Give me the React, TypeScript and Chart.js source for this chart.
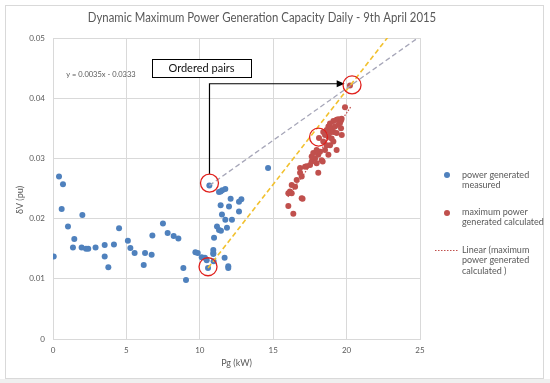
import React, { useEffect, useRef } from "react";
import { Chart, registerables } from "chart.js";

Chart.register(...registerables);

const titleText = "Dynamic Maximum Power Generation Capacity Daily - 9th April 2015";
const xTitle = "Pg (kW)";
const yTitle = "δV (pu)";
const xTickValues = [0, 5, 10, 15, 20, 25];
const yTickLabels = ["0", "0.01", "0.02", "0.03", "0.04", "0.05"];

const measuredX = [0.05,0.41,0.68,0.59,1.02,1.45,1.36,2.0,1.95,2.25,2.4,2.9,3.52,3.52,3.77,4.15,4.5,5.1,5.27,5.56,6.18,6.27,6.72,6.77,7.49,7.81,8.22,8.54,8.88,9.06,9.7,9.86,10.13,10.35,10.47,10.56,10.65,10.92,10.92,10.92,10.94,10.97,11.17,11.31,11.44,11.85,11.74,12.19,11.51,11.42,11.99,12.67,12.1,12.67,12.83,11.31,11.42,11.53,11.74,11.69,11.94,11.94,14.65];
const measuredY = [0.0137,0.0270,0.0257,0.0216,0.0187,0.0166,0.0152,0.0206,0.0152,0.0150,0.0150,0.0152,0.0156,0.0137,0.0119,0.0157,0.0184,0.0163,0.0151,0.0143,0.0123,0.0143,0.0140,0.0172,0.0192,0.0176,0.0171,0.0167,0.0118,0.0098,0.0144,0.0143,0.0136,0.0135,0.0131,0.0118,0.0255,0.0148,0.0143,0.0141,0.0129,0.0168,0.0187,0.0181,0.0180,0.0185,0.0198,0.0198,0.0207,0.0222,0.0220,0.0212,0.0233,0.0228,0.0232,0.0244,0.0245,0.0247,0.0249,0.0135,0.0121,0.0118,0.0284];

const calcX = [16.03,16.37,16.03,16.14,16.26,16.26,16.49,16.6,16.83,16.94,16.94,17.0,16.83,17.17,17.28,17.51,17.62,17.62,17.73,17.85,17.96,17.96,18.07,18.07,18.19,18.3,18.37,18.12,18.41,18.41,18.53,18.53,18.64,18.64,18.76,18.76,18.76,18.87,18.87,18.87,18.98,18.98,19.1,19.1,19.1,19.21,19.32,19.32,19.32,19.44,19.44,19.55,19.62,19.62,19.67,19.66,19.89,20.23];
const calcY = [0.0221,0.0208,0.0242,0.0245,0.0242,0.0256,0.0253,0.0264,0.0276,0.0270,0.0234,0.0233,0.0284,0.0286,0.0287,0.0289,0.0295,0.0303,0.0309,0.0300,0.0292,0.0314,0.0306,0.0276,0.0311,0.0297,0.0295,0.0334,0.0328,0.0344,0.0339,0.0314,0.0322,0.0347,0.0336,0.0306,0.0353,0.0322,0.0344,0.0358,0.0333,0.0350,0.0328,0.0344,0.0362,0.0353,0.0342,0.0364,0.0314,0.0356,0.0365,0.0359,0.0363,0.0350,0.0339,0.0366,0.0385,0.0421];

const trendX = [16.0, 20.3];
const trendY = [0.0236, 0.0386];
const greyLineX = [10.65, 25.2];
const greyLineY = [0.0255, 0.0506];
const yellowLineX = [10.56, 22.8];
const yellowLineY = [0.0118, 0.0501];

const circleX = [10.66, 10.56, 18.09, 20.37];
const circleY = [0.0259, 0.0120, 0.03355, 0.0422];
const arrowX = [10.66, 10.66, 19.8];
const arrowY = [0.0274, 0.0424, 0.0424];
const boxLabel = "Ordered pairs";
const boxX = [6.74, 13.49];
const boxY = [0.04651, 0.04352];
const equationText = "y = 0.0035x - 0.0333";
const equationX = 0.9;
const equationY = 0.0439;

const legendMeasured = ["power generated", "measured"];
const legendCalc = ["maximum power", "generated calculated"];
const legendTrend = ["Linear (maximum", "power generated", "calculated )"];

const FONT = "Lato, 'Open Sans', sans-serif";
const BLUE = "#4f81bd";
const RED = "#c0504d";
const GRID = "#d9d9d9";
const TEXT = "#595959";

const pts = (xs: number[], ys: number[]) => xs.map((x, i) => ({ x, y: ys[i] }));

const overlay = {
  id: "overlay",
  beforeDraw(chart: any) {
    const ctx = chart.ctx;
    ctx.save();
    ctx.fillStyle = "#ffffff";
    ctx.fillRect(0, 0, chart.width, chart.height);
    ctx.fillStyle = "#efefef";
    ctx.fillRect(0, 379, chart.width, chart.height - 379);
    ctx.strokeStyle = GRID;
    ctx.lineWidth = 1;
    ctx.strokeRect(5.5, 5.5, 538, 373);
    ctx.restore();
  },
  afterDraw(chart: any) {
    const ctx = chart.ctx;
    const xs = chart.scales.x;
    const ys = chart.scales.y;
    const area = chart.chartArea;
    ctx.save();
    // title
    ctx.fillStyle = TEXT;
    ctx.font = `12px ${FONT}`;
    ctx.textAlign = "center";
    ctx.textBaseline = "middle";
    ctx.save();
    ctx.translate(262, 18);
    ctx.scale(0.95, 1.08);
    ctx.fillText(titleText, 0, 0);
    ctx.restore();
    // axis titles
    ctx.font = `9px ${FONT}`;
    ctx.fillText(xTitle, (area.left + area.right) / 2, 363);
    ctx.save();
    ctx.translate(20, 200);
    ctx.rotate(-Math.PI / 2);
    ctx.fillText(yTitle, 0, 0);
    ctx.restore();
    // equation
    ctx.font = `7.5px ${FONT}`;
    ctx.textAlign = "left";
    ctx.fillText(equationText, xs.getPixelForValue(equationX), ys.getPixelForValue(equationY));
    // box
    const bx0 = xs.getPixelForValue(boxX[0]);
    const bx1 = xs.getPixelForValue(boxX[1]);
    const by0 = ys.getPixelForValue(boxY[0]);
    const by1 = ys.getPixelForValue(boxY[1]);
    ctx.fillStyle = "#ffffff";
    ctx.fillRect(bx0, by0, bx1 - bx0, by1 - by0);
    ctx.strokeStyle = "#000000";
    ctx.lineWidth = 1;
    ctx.strokeRect(Math.round(bx0) + 0.5, Math.round(by0) + 0.5, Math.round(bx1 - bx0), Math.round(by1 - by0));
    ctx.fillStyle = "#111111";
    ctx.font = `11px ${FONT}`;
    ctx.textAlign = "center";
    ctx.fillText(boxLabel, (bx0 + bx1) / 2, (by0 + by1) / 2 + 0.5);
    // arrow
    ctx.strokeStyle = "#000000";
    ctx.lineWidth = 1.2;
    ctx.beginPath();
    arrowX.forEach((x, i) => {
      const px = xs.getPixelForValue(x);
      const py = ys.getPixelForValue(arrowY[i]);
      if (i === 0) ctx.moveTo(px, py);
      else ctx.lineTo(px, py);
    });
    const tipX = xs.getPixelForValue(arrowX[arrowX.length - 1]);
    const tipY = ys.getPixelForValue(arrowY[arrowY.length - 1]);
    ctx.lineTo(tipX - 5, tipY);
    ctx.stroke();
    ctx.fillStyle = "#000000";
    ctx.beginPath();
    ctx.moveTo(tipX + 1, tipY);
    ctx.lineTo(tipX - 7, tipY - 3.5);
    ctx.lineTo(tipX - 7, tipY + 3.5);
    ctx.closePath();
    ctx.fill();
    // circles
    ctx.strokeStyle = "#e0201c";
    ctx.lineWidth = 1.3;
    circleX.forEach((x, i) => {
      ctx.beginPath();
      ctx.arc(xs.getPixelForValue(x), ys.getPixelForValue(circleY[i]), 9, 0, Math.PI * 2);
      ctx.stroke();
    });
    // legend
    ctx.font = `9px ${FONT}`;
    ctx.textAlign = "left";
    const lx = 462;
    ctx.fillStyle = BLUE;
    ctx.beginPath();
    ctx.arc(447, 175, 3, 0, Math.PI * 2);
    ctx.fill();
    ctx.fillStyle = TEXT;
    legendMeasured.forEach((t, i) => ctx.fillText(t, lx, 175 + i * 10));
    ctx.fillStyle = RED;
    ctx.beginPath();
    ctx.arc(447, 213, 3, 0, Math.PI * 2);
    ctx.fill();
    ctx.fillStyle = TEXT;
    legendCalc.forEach((t, i) => ctx.fillText(t, lx, 212 + i * 10.5));
    ctx.strokeStyle = RED;
    ctx.lineWidth = 1;
    ctx.setLineDash([1.5, 1.5]);
    ctx.beginPath();
    ctx.moveTo(435, 250.5);
    ctx.lineTo(459, 250.5);
    ctx.stroke();
    ctx.setLineDash([]);
    legendTrend.forEach((t, i) => ctx.fillText(t, lx, 250 + i * 10.3));
    ctx.restore();
  },
};

export default function App() {
  const ref = useRef<HTMLCanvasElement | null>(null);
  useEffect(() => {
    document.body.style.margin = "0";
    if (!ref.current) return;
    const chart = new Chart(ref.current, {
      type: "scatter",
      data: {
        datasets: [
          {
            label: "Linear (maximum power generated calculated )",
            data: pts(trendX, trendY),
            showLine: true,
            borderColor: RED,
            borderWidth: 1.2,
            borderDash: [1.5, 1.5],
            pointRadius: 0,
            order: 0,
          },
          {
            label: "grey",
            data: pts(greyLineX, greyLineY),
            showLine: true,
            borderColor: "#a6a6b8",
            borderWidth: 1.3,
            borderDash: [5, 3],
            pointRadius: 0,
            order: 0,
          },
          {
            label: "yellow",
            data: pts(yellowLineX, yellowLineY),
            showLine: true,
            borderColor: "#f2c12e",
            borderWidth: 1.6,
            borderDash: [5, 3],
            pointRadius: 0,
            order: 0,
          },
          {
            label: "power generated measured",
            data: pts(measuredX, measuredY),
            backgroundColor: BLUE,
            borderColor: BLUE,
            pointRadius: 3,
            borderWidth: 0,
            order: 2,
          },
          {
            label: "maximum power generated calculated",
            data: pts(calcX, calcY),
            backgroundColor: RED,
            borderColor: RED,
            pointRadius: 3,
            borderWidth: 0,
            order: 1,
          },
        ],
      },
      options: {
        animation: false,
        responsive: false,
        maintainAspectRatio: false,
        layout: { padding: { left: 0, right: 130, top: 38, bottom: 0 } },
        plugins: { legend: { display: false }, title: { display: false }, tooltip: { enabled: false } },
        scales: {
          x: {
            type: "linear",
            min: 0,
            max: 25,
            afterFit: (s: any) => { s.height = 44; },
            afterBuildTicks: (s: any) => { s.ticks = xTickValues.map((v) => ({ value: v })); },
            ticks: { color: TEXT, font: { size: 8, family: FONT }, padding: 7, maxRotation: 0, callback: (v: any) => String(v) },
            grid: { color: GRID, drawTicks: false },
            border: { color: GRID },
          },
          y: {
            type: "linear",
            min: 0,
            max: 0.05,
            afterFit: (s: any) => { s.width = 53; },
            afterBuildTicks: (s: any) => { s.ticks = yTickLabels.map((t) => ({ value: parseFloat(t) })); },
            ticks: { color: TEXT, font: { size: 8, family: FONT }, padding: 8, callback: (_v: any, i: number) => yTickLabels[i] },
            grid: { color: GRID, drawTicks: false },
            border: { color: GRID },
          },
        },
      },
      plugins: [overlay],
    } as any);
    return () => chart.destroy();
  }, []);
  return (
    <div style={{ width: 550, height: 383 }}>
      <canvas ref={ref} width={550} height={383} style={{ width: 550, height: 383, display: "block" }} />
    </div>
  );
}
